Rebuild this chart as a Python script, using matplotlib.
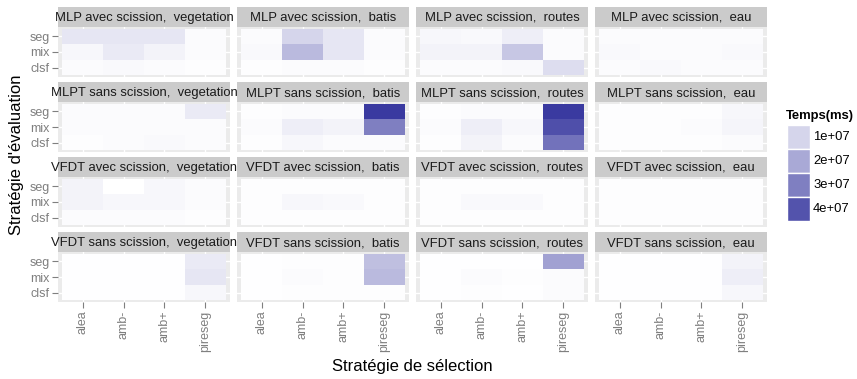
import numpy as np
import matplotlib as mpl
mpl.use("Agg")
import matplotlib.pyplot as plt
from matplotlib.colors import LinearSegmentedColormap, Normalize

plt.rcParams['font.family'] = ['Liberation Sans', 'DejaVu Sans']

## données : temps (ms), lignes = seg, mix, clsf ; colonnes = sélection
selection = ["alea", "amb-", "amb+", "pireseg"]
evaluation = ["seg", "mix", "clsf"]
classes = ["vegetation", "batis", "routes", "eau"]
algos = ["MLP avec scission", "MLPT sans scission",
         "VFDT avec scission", "VFDT sans scission"]

mlp_avec = [
    [[0.6e7, 0.6e7, 0.6e7, 0.1e7], [0.2e7, 0.5e7, 0.3e7, 0.1e7], [0.1e7, 0.15e7, 0.1e7, 0.05e7]],
    [[0.1e7, 1.0e7, 0.6e7, 0.1e7], [0.15e7, 1.6e7, 0.6e7, 0.1e7], [0.05e7, 0.1e7, 0.1e7, 0.05e7]],
    [[0.2e7, 0.15e7, 0.4e7, 0.1e7], [0.3e7, 0.3e7, 1.3e7, 0.1e7], [0.1e7, 0.1e7, 0.15e7, 0.8e7]],
    [[0.1e7, 0.1e7, 0.1e7, 0.1e7], [0.15e7, 0.1e7, 0.1e7, 0.15e7], [0.1e7, 0.15e7, 0.1e7, 0.1e7]],
]
mlpt_sans = [
    [[0.1e7, 0.1e7, 0.1e7, 0.5e7], [0.1e7, 0.1e7, 0.1e7, 0.1e7], [0.05e7, 0.1e7, 0.15e7, 0.1e7]],
    [[0.05e7, 0.1e7, 0.1e7, 4.6e7], [0.1e7, 0.4e7, 0.3e7, 3.0e7], [0.05e7, 0.2e7, 0.1e7, 0.1e7]],
    [[0.05e7, 0.1e7, 0.1e7, 4.6e7], [0.1e7, 0.4e7, 0.2e7, 4.1e7], [0.05e7, 0.3e7, 0.1e7, 3.3e7]],
    [[0.05e7, 0.05e7, 0.05e7, 0.2e7], [0.05e7, 0.05e7, 0.1e7, 0.25e7], [0.05e7, 0.05e7, 0.05e7, 0.1e7]],
]
vfdt_avec = [
    [[0.3e7, 0.0e7, 0.2e7, 0.1e7], [0.3e7, 0.2e7, 0.2e7, 0.1e7], [0.1e7, 0.1e7, 0.1e7, 0.05e7]],
    [[0.05e7, 0.05e7, 0.05e7, 0.05e7], [0.05e7, 0.2e7, 0.15e7, 0.05e7], [0.05e7, 0.05e7, 0.05e7, 0.05e7]],
    [[0.05e7, 0.05e7, 0.05e7, 0.05e7], [0.05e7, 0.15e7, 0.15e7, 0.05e7], [0.05e7, 0.05e7, 0.05e7, 0.05e7]],
    [[0.05e7, 0.05e7, 0.05e7, 0.05e7], [0.05e7, 0.05e7, 0.05e7, 0.05e7], [0.05e7, 0.05e7, 0.05e7, 0.05e7]],
]
vfdt_sans = [
    [[0.02e7, 0.02e7, 0.02e7, 0.5e7], [0.02e7, 0.02e7, 0.02e7, 0.6e7], [0.02e7, 0.02e7, 0.02e7, 0.2e7]],
    [[0.02e7, 0.05e7, 0.05e7, 1.5e7], [0.02e7, 0.1e7, 0.05e7, 1.6e7], [0.02e7, 0.05e7, 0.05e7, 0.05e7]],
    [[0.02e7, 0.02e7, 0.02e7, 2.2e7], [0.02e7, 0.1e7, 0.05e7, 0.1e7], [0.02e7, 0.05e7, 0.02e7, 0.1e7]],
    [[0.02e7, 0.02e7, 0.02e7, 0.3e7], [0.02e7, 0.02e7, 0.02e7, 0.4e7], [0.02e7, 0.02e7, 0.02e7, 0.2e7]],
]
legend_breaks = [1e7, 2e7, 3e7, 4e7]
legend_labels = ["1e+07", "2e+07", "3e+07", "4e+07"]

W, H = 857, 379
fig = plt.figure(figsize=(W / 100, H / 100), dpi=100)
cmap = LinearSegmentedColormap.from_list("temps", ["#ffffff", "#3a3aa0"])
norm = Normalize(0, 4.6e7)

def px_axes(x0, y0, x1, y1):
    # coordonnées pixels (origine en haut à gauche)
    return fig.add_axes([x0 / W, 1 - y1 / H, (x1 - x0) / W, (y1 - y0) / H])

col_x = [58, 237, 416, 595]
pw = 172
row_y = [7, 82, 157, 232]
strip_h, panel_h = 20, 50

for i, data in enumerate([mlp_avec, mlpt_sans, vfdt_avec, vfdt_sans]):
    for j, cls in enumerate(classes):
        x0, y0 = col_x[j], row_y[i]
        # bandeau (texte non coupé : le bandeau suivant le recouvre)
        st = px_axes(x0, y0, x0 + pw, y0 + strip_h)
        st.set_facecolor("#cbcbcb")
        st.set_xticks([]); st.set_yticks([])
        for s in st.spines.values():
            s.set_visible(False)
        st.text(0.5, 0.45, algos[i] + ",  " + cls, ha="center", va="center",
                fontsize=9.4, color="#1a1a1a", transform=st.transAxes, clip_on=False)
        # panneau
        ax = px_axes(x0, y0 + strip_h, x0 + pw, y0 + strip_h + panel_h)
        ax.set_facecolor("#ebebeb")
        ax.set_axisbelow(True)
        ax.grid(True, color="white", lw=1)
        vals = np.array(data[j])
        ax.pcolormesh(np.arange(5) - 0.5, np.arange(4) - 0.5, vals[::-1],
                      cmap=cmap, norm=norm, zorder=2)
        ax.set_xlim(-0.6, 3.6)
        ax.set_ylim(-0.6, 2.6)
        ax.set_xticks(range(4))
        ax.set_yticks(range(3))
        for s in ax.spines.values():
            s.set_visible(False)
        ax.tick_params(colors="#7f7f7f", length=4, width=0.8, labelsize=9, pad=2)
        if j == 0:
            ax.set_yticklabels(evaluation[::-1])
        else:
            ax.tick_params(axis="y", length=0, labelleft=False)
        if i == 3:
            ax.set_xticklabels(selection, rotation=90)
        else:
            ax.tick_params(axis="x", length=0, labelbottom=False)

fig.text(412 / W, 1 - 366 / H, "Stratégie de sélection", ha="center", va="center", fontsize=12)
fig.text(17 / W, 1 - 155 / H, "Stratégie d'évaluation", ha="center", va="center",
         rotation=90, fontsize=12)

# légende
fig.text(786 / W, 1 - 116 / H, "Temps(ms)", ha="left", va="center",
         fontsize=9.4, fontweight="bold")
lg = px_axes(787, 125, 810, 221)
lg.set_xlim(0, 1)
lg.set_ylim(len(legend_breaks), 0)
lg.axis("off")
for k, (b, lab) in enumerate(zip(legend_breaks, legend_labels)):
    lg.bar(0.5, 1, bottom=k, width=1, color=cmap(norm(b)), edgecolor="white", lw=1)
    fig.text(813 / W, 1 - (125 + 24 * k + 12) / H, lab, ha="left", va="center", fontsize=9.4)

plt.savefig("out.png", dpi=100)
